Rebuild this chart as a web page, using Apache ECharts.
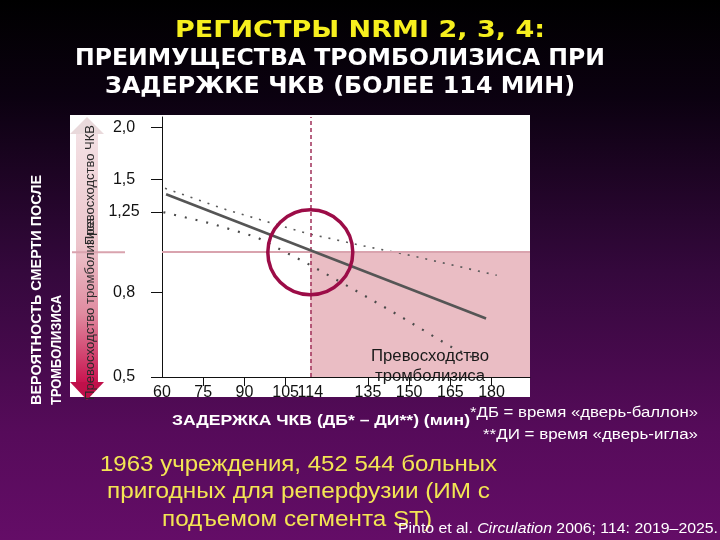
<!DOCTYPE html>
<html>
<head>
<meta charset="utf-8">
<script src="https://cdn.jsdelivr.net/npm/echarts@6/dist/echarts.min.js"></script>
<style>
  html, body { margin: 0; padding: 0; background: #000; }
  #main { width: 720px; height: 540px; }
</style>
</head>
<body>
<div id="main"></div>
<script>
// данные
const solidX = [61.5, 178.0];
const solidY = [1.38, 0.692];
const upperX = [61.1, 83.6, 112.7, 132.1, 150.3, 181.9];
const upperY = [1.427, 1.265, 1.111, 1.040, 0.983, 0.880];
const lowerX = [60.5, 77.5, 94.5, 112.7, 128.4, 146.7, 164.9, 173.6];
const lowerY = [1.249, 1.175, 1.087, 0.941, 0.823, 0.701, 0.593, 0.555];
const xTickValues = [60, 75, 90, 105, 114, 135, 150, 165, 180];
const xTickMarks = [75, 90, 105, 135, 150, 165, 180];
const yTickValues = [0.5, 0.8, 1.25, 1.5, 2.0];
const yTickLabels = ['0,5', '0,8', '1,25', '1,5', '2,0'];
const delayCut = 114;
const refRatio = 1.0;

const pairs = (xs, ys) => xs.map((x, i) => [x, ys[i]]);

const chart = echarts.init(document.getElementById('main'));

// подгонка ширины текста (шрифт на слайде растянут)
const ctx = document.createElement('canvas').getContext('2d');
function fit(text, font, width) {
  ctx.font = font;
  return width / ctx.measureText(text).width;
}
function txt(text, x, y, o) {
  const weight = o.weight || 'normal';
  const style = o.style || 'normal';
  const family = o.family || 'Liberation Sans';
  const font = style + ' ' + weight + ' ' + o.size + 'px "' + family + '"';
  return {
    type: 'text', x: x, y: y, z: 100,
    rotation: o.rotation || 0,
    scaleX: o.width ? fit(text, font, o.width) : (o.scale || 1),
    style: {
      text: text, fill: o.color || '#fff',
      fontSize: o.size, fontWeight: weight, fontStyle: style, fontFamily: family,
      align: o.align || 'left', verticalAlign: 'middle'
    }
  };
}

chart.setOption({
  animation: false,
  backgroundColor: new echarts.graphic.LinearGradient(0, 0, 0, 1, [
    { offset: 0, color: '#000000' },
    { offset: 0.18, color: '#0b0110' },
    { offset: 0.5, color: '#34083c' },
    { offset: 0.8, color: '#560b5a' },
    { offset: 1, color: '#640d67' }
  ]),
  grid: { left: 162, right: 190, top: 117, bottom: 163 },
  xAxis: {
    type: 'value', min: 60, max: 194,
    axisLine: { lineStyle: { color: '#111', width: 1 } },
    axisTick: { customValues: xTickMarks, length: 9, lineStyle: { color: '#111' } },
    axisLabel: {
      customValues: xTickValues, margin: 8,
      color: '#111', fontSize: 16, fontFamily: 'Liberation Sans'
    },
    splitLine: { show: false }
  },
  yAxis: {
    type: 'log', min: 0.5, max: 2.12,
    axisLine: { show: true, lineStyle: { color: '#111', width: 1 } },
    axisTick: { show: true, customValues: yTickValues, length: 11, lineStyle: { color: '#111' } },
    axisLabel: {
      customValues: yTickValues, align: 'center', margin: 38,
      color: '#111', fontSize: 16, fontFamily: 'Liberation Sans',
      formatter: v => yTickLabels[yTickValues.findIndex(t => Math.abs(t - v) < 1e-6)] || ''
    },
    splitLine: { show: false }
  },
  series: [
    {
      type: 'line', data: pairs(solidX, solidY), symbol: 'none', z: 5,
      lineStyle: { color: '#555', width: 2.6 },
      markArea: {
        silent: true,
        itemStyle: { color: '#eabdc4' },
        data: [[{ xAxis: delayCut, yAxis: 0.5 }, { xAxis: 194, yAxis: refRatio }]]
      },
      markLine: {
        silent: true, symbol: 'none', label: { show: false },
        data: [
          { yAxis: refRatio, lineStyle: { color: '#d9a3ae', width: 2, type: 'solid' } },
          { xAxis: delayCut, lineStyle: { color: '#a0305a', width: 1.5, type: [4, 3] } }
        ]
      }
    },
    {
      type: 'line', data: pairs(upperX, upperY), symbol: 'none', z: 4,
      lineStyle: { color: '#5a5a5a', width: 1.6, type: [2, 7] }
    },
    {
      type: 'line', data: pairs(lowerX, lowerY), symbol: 'none', z: 4,
      lineStyle: { color: '#4a4a4a', width: 2.2, type: [2, 9] }
    },
    {
      type: 'scatter', data: [[delayCut, refRatio]], symbol: 'circle', symbolSize: 85,
      silent: true, z: 6,
      itemStyle: { color: 'rgba(0,0,0,0)', borderColor: '#9c0c47', borderWidth: 3.5, opacity: 1 }
    }
  ]
});

const refY = chart.convertToPixel({ yAxisIndex: 0 }, refRatio);

const cite1 = 'Pinto et al. ', cite2 = 'Circulation', cite3 = ' 2006; 114: 2019\u20132025.';
ctx.font = 'normal normal 14px "Liberation Sans"';
let citeW = ctx.measureText(cite1).width + ctx.measureText(cite3).width;
ctx.font = 'italic normal 14px "Liberation Sans"';
citeW += ctx.measureText(cite2).width;

const plateScale = fit('Превосходство', 'normal normal 16px "Liberation Sans"', 118);

chart.setOption({
  graphic: [
    // белая подложка графика
    { type: 'rect', z: -10, shape: { x: 70, y: 115, width: 460, height: 282 }, style: { fill: '#fff' } },
    // стрелка слева
    {
      type: 'rect', z: 1, shape: { x: 76, y: 133, width: 22, height: 250 },
      style: {
        fill: new echarts.graphic.LinearGradient(0, 0, 0, 1, [
          { offset: 0, color: '#f3e1e4' },
          { offset: 0.45, color: '#ecc4cb' },
          { offset: 0.72, color: '#e08ba0' },
          { offset: 1, color: '#c8134f' }
        ])
      }
    },
    { type: 'polygon', z: 1, shape: { points: [[70, 134], [104, 134], [87, 117]] }, style: { fill: '#e9d9db' } },
    { type: 'polygon', z: 1, shape: { points: [[70, 382], [104, 382], [87, 400]] }, style: { fill: '#c0104a' } },
    { type: 'line', z: 2, shape: { x1: 72, y1: refY, x2: 125, y2: refY }, style: { stroke: '#d9a3ae', lineWidth: 2 } },
    txt('Превосходство тромболизиса', 90, 400, { size: 13, color: '#2a2a2a', rotation: Math.PI / 2, width: 182 }),
    txt('Превосходство ЧКВ', 90, 245, { size: 13, color: '#2a2a2a', rotation: Math.PI / 2, width: 120 }),
    // подпись в розовой области
    txt('Превосходство', 430, 357, { size: 16, color: '#1a1a1a', align: 'center', scale: plateScale }),
    txt('тромболизиса', 430, 377, { size: 16, color: '#1a1a1a', align: 'center', scale: plateScale }),
    // заголовок
    txt('РЕГИСТРЫ NRMI 2, 3, 4:', 175, 31, { size: 23, weight: 'bold', family: 'DejaVu Sans', color: '#f6ef1e', width: 370 }),
    txt('ПРЕИМУЩЕСТВА ТРОМБОЛИЗИСА ПРИ', 75, 59, { size: 23, weight: 'bold', family: 'DejaVu Sans', color: '#fff', width: 530 }),
    txt('ЗАДЕРЖКЕ ЧКВ (БОЛЕЕ 114 МИН)', 105, 87, { size: 23, weight: 'bold', family: 'DejaVu Sans', color: '#fff', width: 470 }),
    // ось Y снаружи
    txt('ВЕРОЯТНОСТЬ СМЕРТИ ПОСЛЕ', 37, 405, { size: 14, weight: 'bold', rotation: Math.PI / 2, width: 230 }),
    txt('ТРОМБОЛИЗИСА', 57, 405, { size: 14, weight: 'bold', rotation: Math.PI / 2, width: 110 }),
    // ось X
    txt('ЗАДЕРЖКА ЧКВ (ДБ* \u2013 ДИ**) (мин)', 172, 421, { size: 15, weight: 'bold', width: 298 }),
    txt('*ДБ = время «дверь-баллон»', 470, 413, { size: 14, width: 228 }),
    txt('**ДИ = время «дверь-игла»', 483, 435, { size: 14, width: 215 }),
    // жёлтый текст
    txt('1963 учреждения, 452 544 больных', 100, 465, { size: 22, color: '#f3e553', width: 397 }),
    txt('пригодных для реперфузии (ИМ с', 107, 492, { size: 22, color: '#f3e553', width: 383 }),
    txt('подъемом сегмента ST)', 162, 520, { size: 22, color: '#f3e553', width: 270 }),
    // ссылка
    {
      type: 'text', x: 398, y: 529, z: 100, scaleX: 320 / citeW,
      style: {
        text: '{n|' + cite1 + '}{i|' + cite2 + '}{n|' + cite3 + '}',
        fill: '#fff', verticalAlign: 'middle',
        rich: {
          n: { fontSize: 14, fontFamily: 'Liberation Sans', fill: '#fff' },
          i: { fontSize: 14, fontFamily: 'Liberation Sans', fontStyle: 'italic', fill: '#fff' }
        }
      }
    }
  ]
});
</script>
</body>
</html>
